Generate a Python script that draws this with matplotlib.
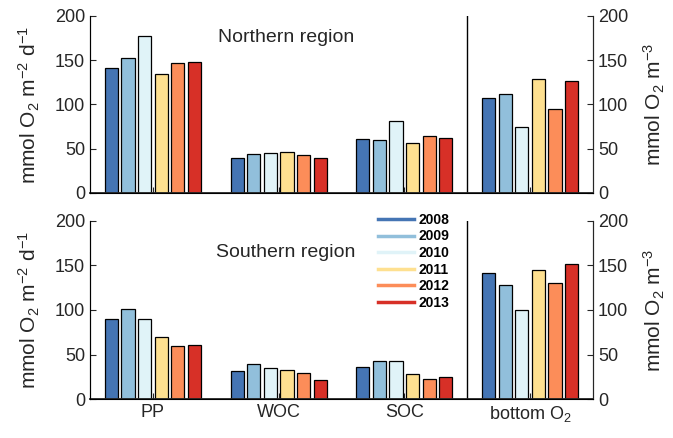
import numpy as np
import matplotlib.pyplot as plt

plt.rcParams['font.family'] = ['Liberation Sans', 'DejaVu Sans']
plt.rcParams['mathtext.fontset'] = 'custom'
plt.rcParams['mathtext.rm'] = 'Liberation Sans'
plt.rcParams['mathtext.it'] = 'Liberation Sans:italic'

years = ['2008', '2009', '2010', '2011', '2012', '2013']
colors = ['#4575b4', '#91bfdb', '#e0f3f8', '#fee090', '#fc8d59', '#d73027']
groups = ['PP', 'WOC', 'SOC', 'bottom O$_2$']

# rows: years, cols: PP, WOC, SOC, bottom O2
north = np.array([
    [141, 40, 61, 107],
    [152, 44, 60, 112],
    [177, 45, 81, 75],
    [135, 46, 56, 129],
    [147, 43, 64, 95],
    [148, 39, 62, 126],
])
south = np.array([
    [90, 32, 36, 141],
    [101, 40, 43, 128],
    [90, 35, 43, 100],
    [70, 33, 28, 145],
    [60, 29, 23, 130],
    [61, 22, 25, 152],
])

fig = plt.figure(figsize=(6.73, 4.38), dpi=100)
ax1 = fig.add_axes([0.1337, 0.5594, 0.7474, 0.4041])
ax2 = fig.add_axes([0.1337, 0.0884, 0.7474, 0.4077])

xg = np.arange(1, 5)
pitch = 0.132
w = 0.105
txtc = '#262626'

for ax, data, title, ty in [(ax1, north, 'Northern region', 0.88),
                            (ax2, south, 'Southern region', 0.82)]:
    for i in range(len(years)):
        ax.bar(xg + (i - 2.5) * pitch, data[i], width=w, color=colors[i],
               edgecolor='black', linewidth=0.9, label=years[i], zorder=2)
    ax.set_xlim(0.5, 4.5)
    ax.set_ylim(0, 200)
    ax.set_yticks([0, 50, 100, 150, 200])
    ax.set_xticks(xg)
    ax.axvline(3.5, color='black', linewidth=1)
    ax.spines['top'].set_visible(False)
    for s in ['left', 'right', 'bottom']:
        ax.spines[s].set_color(txtc)
    ax.spines['bottom'].set_linewidth(1.3)
    ax.tick_params(direction='in', length=4, labelsize=13, colors=txtc)
    ax.set_ylabel('mmol O$_2$ m$^{\\mathrm{-2}}$ d$^{\\mathrm{-1}}$', fontsize=15,
                  color=txtc, labelpad=9)
    ax.text(0.39, ty, title, transform=ax.transAxes, ha='center', va='center',
            fontsize=14, color=txtc)
    axr = ax.twinx()
    axr.set_ylim(0, 200)
    axr.set_yticks([0, 50, 100, 150, 200])
    axr.spines['top'].set_visible(False)
    axr.spines['right'].set_color(txtc)
    axr.tick_params(direction='in', length=4, labelsize=13, colors=txtc)
    axr.set_ylabel('mmol O$_2$ m$^{\\mathrm{-3}}$', fontsize=15, color=txtc,
                   labelpad=10)

ax1.set_xticklabels([])
ax2.set_xticklabels(groups, fontsize=13)

handles = [plt.Line2D([0], [0], color=c, linewidth=2.5) for c in colors]
leg = fig.legend(handles, years, loc='upper left', bbox_to_anchor=(0.553, 0.527),
                 frameon=False, fontsize=10, handlelength=2.6, labelspacing=0.19,
                 handletextpad=0.35, borderaxespad=0)
for t in leg.get_texts():
    t.set_fontweight('bold')

fig.savefig('out.png', dpi=100)
